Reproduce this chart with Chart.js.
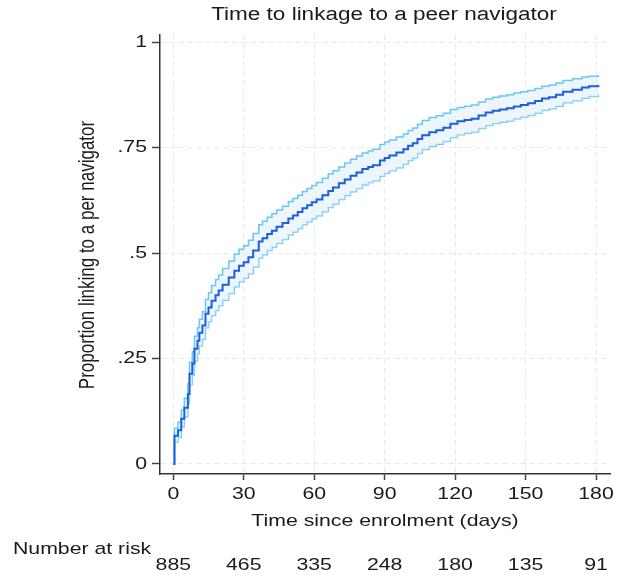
<!DOCTYPE html>
<html>
<head>
<meta charset="utf-8">
<script src="https://cdn.jsdelivr.net/npm/chart.js@4"></script>
<style>
  html,body{margin:0;padding:0;background:#fff;}
  canvas{display:block;}
</style>
</head>
<body>
<canvas id="kmChart" width="621" height="576"></canvas>
<script>
// --- Data ---
const titleText = "Time to linkage to a peer navigator";
const xTitle = "Time since enrolment (days)";
const yTitle = "Proportion linking to a per navigator";

const xTicks = [0, 30, 60, 90, 120, 150, 180];
const yTicks = [0, 0.25, 0.5, 0.75, 1];
const yTickLabels = ["0", ".25", ".5", ".75", "1"];
const atRisk = [885, 465, 335, 248, 180, 135, 91];

const days = [0, 0.5, 2, 3.4, 4.7, 6.2, 6.9, 8.1, 9, 10.3,
  11.1, 12.4, 13.7, 15, 16.3, 18, 19.3, 21, 23.6, 26,
  28, 30, 32, 34, 36.4, 38, 40, 42, 44, 46.5,
  49, 51, 53, 55, 57, 59, 61, 63.5, 66, 68,
  70.5, 73, 75.5, 78, 80.5, 83, 85, 88, 90, 92,
  95, 98, 100, 102, 104, 106, 109, 112, 115, 118,
  121, 124, 127, 130, 133, 136, 139, 142, 145, 148,
  151, 154, 157, 160, 163, 166, 170, 174, 177, 181];

const estimate = [0, 0.067, 0.080, 0.107, 0.133, 0.166, 0.214, 0.238, 0.273, 0.292,
  0.311, 0.328, 0.356, 0.371, 0.387, 0.400, 0.411, 0.425, 0.442, 0.458,
  0.470, 0.478, 0.490, 0.506, 0.527, 0.535, 0.545, 0.553, 0.562, 0.571,
  0.582, 0.589, 0.597, 0.606, 0.613, 0.620, 0.627, 0.637, 0.647, 0.655,
  0.665, 0.674, 0.683, 0.691, 0.699, 0.704, 0.708, 0.719, 0.725, 0.731,
  0.738, 0.746, 0.754, 0.760, 0.770, 0.779, 0.786, 0.791, 0.797, 0.806,
  0.812, 0.815, 0.818, 0.826, 0.833, 0.837, 0.840, 0.843, 0.847, 0.851,
  0.855, 0.860, 0.866, 0.869, 0.875, 0.882, 0.887, 0.892, 0.895, 0.898];

const lowerCI = [0, 0.052, 0.063, 0.088, 0.112, 0.143, 0.188, 0.211, 0.244, 0.262,
  0.280, 0.296, 0.323, 0.337, 0.352, 0.364, 0.375, 0.388, 0.404, 0.420,
  0.432, 0.440, 0.451, 0.467, 0.488, 0.496, 0.506, 0.514, 0.523, 0.532,
  0.543, 0.550, 0.558, 0.567, 0.574, 0.581, 0.588, 0.598, 0.608, 0.616,
  0.627, 0.636, 0.645, 0.653, 0.662, 0.667, 0.671, 0.682, 0.689, 0.695,
  0.702, 0.711, 0.719, 0.725, 0.736, 0.745, 0.753, 0.758, 0.764, 0.774,
  0.780, 0.784, 0.787, 0.795, 0.802, 0.807, 0.810, 0.813, 0.818, 0.822,
  0.826, 0.832, 0.838, 0.842, 0.848, 0.856, 0.861, 0.867, 0.871, 0.875];

const upperCI = [0, 0.085, 0.099, 0.128, 0.156, 0.191, 0.241, 0.266, 0.303, 0.323,
  0.343, 0.361, 0.390, 0.406, 0.423, 0.437, 0.448, 0.463, 0.481, 0.497,
  0.509, 0.517, 0.530, 0.546, 0.567, 0.575, 0.585, 0.593, 0.602, 0.611,
  0.622, 0.629, 0.637, 0.646, 0.653, 0.660, 0.667, 0.677, 0.687, 0.695,
  0.704, 0.713, 0.722, 0.730, 0.737, 0.742, 0.746, 0.757, 0.763, 0.768,
  0.775, 0.782, 0.790, 0.796, 0.805, 0.814, 0.821, 0.825, 0.831, 0.840,
  0.845, 0.848, 0.851, 0.858, 0.865, 0.869, 0.872, 0.875, 0.879, 0.882,
  0.885, 0.890, 0.895, 0.898, 0.903, 0.909, 0.913, 0.917, 0.919, 0.921];

const FONT = "'Liberation Sans', Arial, sans-serif";
const TEXT = "#1a1a1a";
const SX = 1.25; // the picture's text is stretched sideways

function toPoints(vals){
  return days.map((d,i)=>({x:d, y:vals[i]}));
}

function stretchText(ctx, txt, x, y, align){
  ctx.save();
  ctx.translate(x, y);
  ctx.scale(SX, 1);
  ctx.textAlign = align;
  ctx.fillText(txt, 0, 0);
  ctx.restore();
}

// --- All text: title, tick labels, axis titles, number at risk ---
const textPlugin = {
  id:"kmText",
  afterDraw(chart){
    const ctx = chart.ctx;
    const xs = chart.scales.x;
    const ys = chart.scales.y;
    ctx.save();
    ctx.fillStyle = TEXT;
    ctx.textBaseline = "middle";

    ctx.font = "18px " + FONT;
    stretchText(ctx, titleText, 384, 15, "center");

    ctx.font = "17px " + FONT;
    xTicks.forEach(t=>stretchText(ctx, String(t), xs.getPixelForValue(t), 494, "center"));
    yTicks.forEach((t,i)=>stretchText(ctx, yTickLabels[i], 147, ys.getPixelForValue(t), "right"));

    stretchText(ctx, xTitle, 385, 521, "center");

    ctx.save();
    ctx.translate(88, 255);
    ctx.scale(SX, 1);
    ctx.rotate(-Math.PI/2);
    ctx.textAlign = "center";
    ctx.fillText(yTitle, 0, 0);
    ctx.restore();

    stretchText(ctx, "Number at risk", 13, 549, "left");
    xTicks.forEach((t,i)=>stretchText(ctx, String(atRisk[i]), xs.getPixelForValue(t), 565, "center"));
    ctx.restore();
  }
};

// --- Chart ---
const ctx = document.getElementById("kmChart").getContext("2d");
new Chart(ctx, {
  type:"line",
  data:{
    datasets:[
      {label:"Estimate", data:toPoints(estimate), borderColor:"#1d5fdc", borderWidth:2,
        pointRadius:0, stepped:true, fill:false, order:0},
      {label:"Lower", data:toPoints(lowerCI), borderColor:"#6cc7f0", borderWidth:1.5,
        pointRadius:0, stepped:true, fill:false, order:2},
      {label:"Upper", data:toPoints(upperCI), borderColor:"#6cc7f0", borderWidth:1.5,
        pointRadius:0, stepped:true, fill:1, backgroundColor:"rgba(225,238,252,0.6)", order:1}
    ]
  },
  options:{
    responsive:false,
    animation:false,
    layout:{padding:{left:0, right:11, top:35, bottom:0}},
    plugins:{legend:{display:false}, tooltip:{enabled:false}, title:{display:false}},
    scales:{
      x:{
        type:"linear",
        min:-5.66, max:185.96,
        afterBuildTicks:s=>{ s.ticks = xTicks.map(v=>({value:v})); },
        afterFit:s=>{ s.height = 102; },
        grid:{color:"#e8e8e8", lineWidth:1, drawTicks:true, tickLength:6,
          tickColor:"#444", tickWidth:1.5, tickBorderDash:[]},
        border:{display:true, color:"#333", width:1.5, dash:[5,4]},
        ticks:{display:false}
      },
      y:{
        type:"linear",
        min:-0.0237, max:1.0166,
        afterBuildTicks:s=>{ s.ticks = yTicks.map(v=>({value:v})); },
        afterFit:s=>{ s.width = 160; },
        grid:{color:"#e8e8e8", lineWidth:1, drawTicks:true, tickLength:8,
          tickColor:"#444", tickWidth:1.5, tickBorderDash:[]},
        border:{display:true, color:"#333", width:1.5, dash:[5,4]},
        ticks:{display:false}
      }
    }
  },
  plugins:[textPlugin]
});
</script>
</body>
</html>
